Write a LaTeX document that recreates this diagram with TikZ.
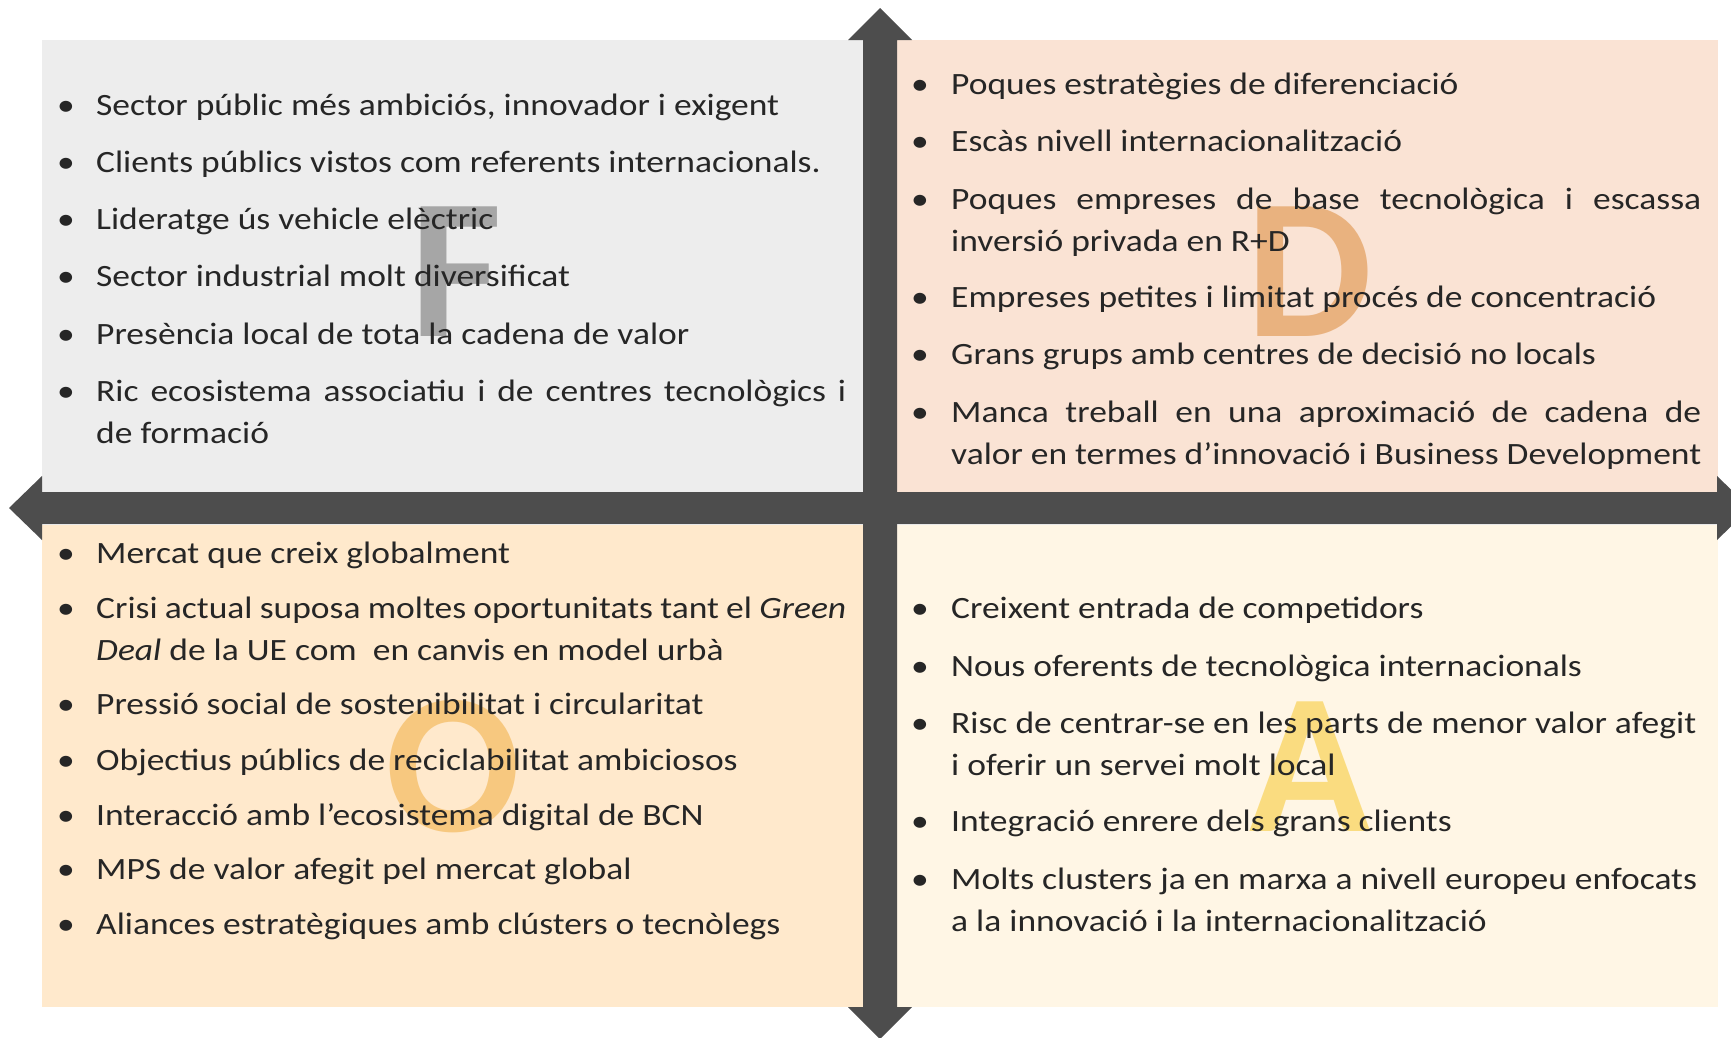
\documentclass[tikz,border=0pt]{standalone}
\usepackage{fontspec}
\setmainfont[FakeStretch=1.145]{Carlito}
\newfontfamily\bigfont{Carlito}
\definecolor{bgF}{HTML}{EDEDED}
\definecolor{bgD}{HTML}{FAE3D4}
\definecolor{bgO}{HTML}{FFE9CC}
\definecolor{bgA}{HTML}{FFF6E5}
\definecolor{bar}{HTML}{4D4D4D}
\definecolor{ltF}{HTML}{A6A6A6}
\definecolor{ltD}{HTML}{E9B27F}
\definecolor{ltO}{HTML}{F7C87F}
\definecolor{ltA}{HTML}{FADC80}
\definecolor{txt}{HTML}{262626}
\begin{document}
\begin{tikzpicture}[x=1pt,y=-1pt,
  itemtxt/.style={anchor=base west, text width=750pt, align=justify, inner sep=0pt, font=\fontsize{31}{42}\selectfont, text=txt},
  bul/.style={anchor=base, inner sep=0pt, font=\fontsize{31}{42}\selectfont, text=txt},
  big/.style={anchor=center, inner sep=0pt, font=\bigfont\fontsize{200}{200}\selectfont\bfseries}]
\useasboundingbox (0,0) rectangle (1731,1037);
\clip (0,0) rectangle (1731,1037);
\fill[white] (0,0) rectangle (1731,1037);
% quadrants
\fill[bgF] (42,40) rectangle (863,492);
\fill[bgD] (896,40) rectangle (1718,492);
\fill[bgO] (42,525) rectangle (863,1007);
\fill[bgA] (896,525) rectangle (1718,1007);
% cross arrows
\fill[bar] (863,40) -- (848,40) -- (880,8) -- (912,40) -- (897,40) -- (897,1007) -- (912,1007) -- (880,1039) -- (848,1007) -- (863,1007) -- cycle;
\fill[bar] (42,492) -- (42,476) -- (9,508) -- (42,540) -- (42,524) -- (1717,524) -- (1717,540) -- (1750,508) -- (1717,476) -- (1717,492) -- cycle;
% big letters
\node[big, text=ltF] (bigF) at (456,272) {F};
\node[big, text=ltD] (bigD) at (1310,272) {D};
\node[big, text=ltO] (bigO) at (453,767) {O};
\node[big, text=ltA] (bigA) at (1310,767) {A};
% F items
\foreach \y/\n in {115/1,172/2,229/3,286/4,344/5,401/6} \node[bul] (fb\n) at (66,\y) {•};
\node[itemtxt] (f1) at (96,115) {Sector públic més ambiciós, innovador i exigent};
\node[itemtxt] (f2) at (96,172) {Clients públics vistos com referents internacionals.};
\node[itemtxt] (f3) at (96,229) {Lideratge ús vehicle elèctric};
\node[itemtxt] (f4) at (96,286) {Sector industrial molt diversificat};
\node[itemtxt] (f5) at (96,344) {Presència local de tota la cadena de valor};
\node[itemtxt] (f6) at (96,401) {Ric ecosistema associatiu i de centres tecnològics i\linebreak de formació};
% D items
\foreach \y/\n in {94/1,151/2,209/3,307/4,364/5,422/6} \node[bul] (db\n) at (920,\y) {•};
\node[itemtxt] (d1) at (951,94) {Poques estratègies de diferenciació};
\node[itemtxt] (d2) at (951,151) {Escàs nivell internacionalització};
\node[itemtxt] (d3) at (951,209) {Poques empreses de base tecnològica i escassa\linebreak inversió privada en R+D};
\node[itemtxt] (d4) at (951,307) {Empreses petites i limitat procés de concentració};
\node[itemtxt] (d5) at (951,364) {Grans grups amb centres de decisió no locals};
\node[itemtxt] (d6) at (951,422) {Manca treball en una aproximació de cadena de\linebreak valor en termes d’innovació i Business Development};
% O items
\foreach \y/\n in {563/1,618/2,714/3,770/4,825/5,879/6,934/7} \node[bul] (ob\n) at (66,\y) {•};
\node[itemtxt] (o1) at (96,563) {Mercat que creix globalment};
\node[itemtxt] (o2) at (96,618) {Crisi actual suposa moltes oportunitats tant el \textit{Green}\\\textit{Deal} de la UE com \ en canvis en model urbà};
\node[itemtxt] (o3) at (96,714) {Pressió social de sostenibilitat i circularitat};
\node[itemtxt] (o4) at (96,770) {Objectius públics de reciclabilitat ambiciosos};
\node[itemtxt] (o5) at (96,825) {Interacció amb l’ecosistema digital de BCN};
\node[itemtxt] (o6) at (96,879) {MPS de valor afegit pel mercat global};
\node[itemtxt] (o7) at (96,934) {Aliances estratègiques amb clústers o tecnòlegs};
% A items
\foreach \y/\n in {618/1,676/2,733/3,831/4,889/5} \node[bul] (ab\n) at (920,\y) {•};
\node[itemtxt] (a1) at (951,618) {Creixent entrada de competidors};
\node[itemtxt] (a2) at (951,676) {Nous oferents de tecnològica internacionals};
\node[itemtxt] (a3) at (951,733) {Risc de centrar-se en les parts de menor valor afegit\\i oferir un servei molt local};
\node[itemtxt] (a4) at (951,831) {Integració enrere dels grans clients};
\node[itemtxt] (a5) at (951,889) {Molts clusters ja en marxa a nivell europeu enfocats\\a la innovació i la internacionalització};
\end{tikzpicture}
\end{document}
